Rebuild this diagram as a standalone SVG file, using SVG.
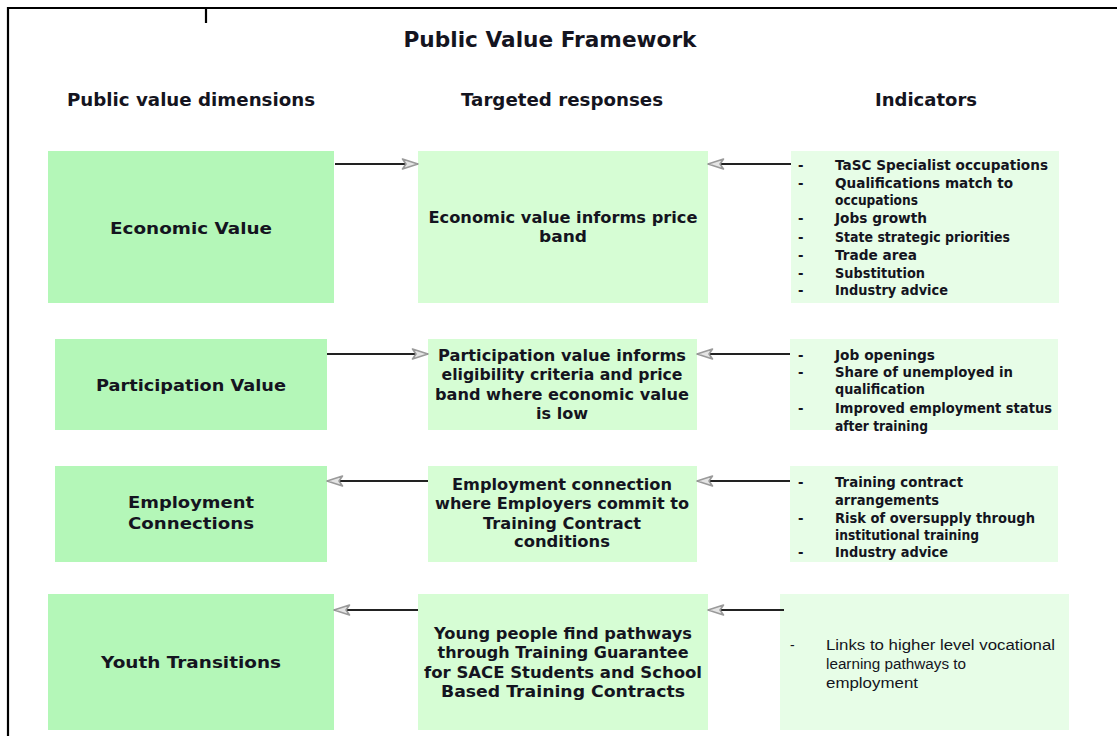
<svg xmlns="http://www.w3.org/2000/svg" width="1117" height="736" viewBox="0 0 1117 736">
<defs>
<marker id="ah" markerUnits="userSpaceOnUse" markerWidth="20" markerHeight="14" refX="17" refY="7" orient="auto">
<path d="M1.5,2 L17,7 L1.5,12 L5,7 Z" fill="#e4e4e4" stroke="#9a9a9a" stroke-width="1.6" stroke-linejoin="round"/>
</marker>
<style>
.frame{stroke:#000;stroke-width:2.2;fill:none}
.dim{fill:#b4f7b8}
.resp{fill:#d6fdd4}
.ind{fill:#e7fde7}
text{font-family:"DejaVu Sans","Liberation Sans",Arial,sans-serif;fill:#141420}
.title{font-size:21px;font-weight:bold;text-anchor:middle}
.head{font-size:17.5px;font-weight:bold;text-anchor:middle}
.lbl{font-size:16.5px;font-weight:bold;text-anchor:middle}
.rt{font-size:16px;font-weight:bold;text-anchor:middle}
.it{font-size:13.2px;font-weight:bold}
.itr{font-size:14px;font-weight:normal;font-family:"Liberation Sans",Arial,sans-serif}
.conn{stroke:#222;stroke-width:2;fill:none}
</style>
</defs>
<rect x="0" y="0" width="1117" height="736" fill="#fff"/>
<g id="frame">
<path class="frame" d="M8,736 V8 H1117"/>
<path class="frame" d="M206,8 V23"/>
</g>
<g id="headings">
<text class="title" x="550" y="47" textLength="293" lengthAdjust="spacingAndGlyphs">Public Value Framework</text>
<text class="head" x="191" y="106" textLength="248" lengthAdjust="spacingAndGlyphs">Public value dimensions</text>
<text class="head" x="562" y="106" textLength="202" lengthAdjust="spacingAndGlyphs">Targeted responses</text>
<text class="head" x="926" y="106" textLength="102" lengthAdjust="spacingAndGlyphs">Indicators</text>
</g>

<g id="economic-value">
<rect class="dim" x="48" y="151" width="286" height="152"/>
<text class="lbl" x="191" y="234" textLength="162" lengthAdjust="spacingAndGlyphs">Economic Value</text>
</g>
<g id="economic-response">
<rect class="resp" x="418" y="151" width="290" height="152"/>
<text class="rt" x="563" y="223" textLength="269" lengthAdjust="spacingAndGlyphs">Economic value informs price</text>
<text class="rt" x="563" y="242" textLength="48" lengthAdjust="spacingAndGlyphs">band</text>
</g>
<g id="economic-indicators">
<rect class="ind" x="791" y="151" width="268" height="152"/>
<text class="it" x="798" y="170">-</text>
<text class="it" x="835" y="170" textLength="213" lengthAdjust="spacingAndGlyphs">TaSC Specialist occupations</text>
<text class="it" x="798" y="188">-</text>
<text class="it" x="835" y="188" textLength="178" lengthAdjust="spacingAndGlyphs">Qualifications match to</text>
<text class="it" x="835" y="205" textLength="83" lengthAdjust="spacingAndGlyphs">occupations</text>
<text class="it" x="798" y="223">-</text>
<text class="it" x="835" y="223" textLength="92" lengthAdjust="spacingAndGlyphs">Jobs growth</text>
<text class="it" x="798" y="242">-</text>
<text class="it" x="835" y="242" textLength="175" lengthAdjust="spacingAndGlyphs">State strategic priorities</text>
<text class="it" x="798" y="260">-</text>
<text class="it" x="835" y="260" textLength="82" lengthAdjust="spacingAndGlyphs">Trade area</text>
<text class="it" x="798" y="278">-</text>
<text class="it" x="835" y="278" textLength="90" lengthAdjust="spacingAndGlyphs">Substitution</text>
<text class="it" x="798" y="295">-</text>
<text class="it" x="835" y="295" textLength="113" lengthAdjust="spacingAndGlyphs">Industry advice</text>
</g>

<g id="participation-value">
<rect class="dim" x="55" y="339" width="272" height="91"/>
<text class="lbl" x="191" y="391" textLength="190" lengthAdjust="spacingAndGlyphs">Participation Value</text>
</g>
<g id="participation-response">
<rect class="resp" x="428" y="339" width="269" height="91"/>
<text class="rt" x="562" y="361" textLength="248" lengthAdjust="spacingAndGlyphs">Participation value informs</text>
<text class="rt" x="562" y="380" textLength="241" lengthAdjust="spacingAndGlyphs">eligibility criteria and price</text>
<text class="rt" x="562" y="400" textLength="254" lengthAdjust="spacingAndGlyphs">band where economic value</text>
<text class="rt" x="562" y="419" textLength="52" lengthAdjust="spacingAndGlyphs">is low</text>
</g>
<g id="participation-indicators">
<rect class="ind" x="790" y="339" width="268" height="91"/>
<text class="it" x="798" y="360">-</text>
<text class="it" x="835" y="360" textLength="100" lengthAdjust="spacingAndGlyphs">Job openings</text>
<text class="it" x="798" y="377">-</text>
<text class="it" x="835" y="377" textLength="178" lengthAdjust="spacingAndGlyphs">Share of unemployed in</text>
<text class="it" x="835" y="394" textLength="90" lengthAdjust="spacingAndGlyphs">qualification</text>
<text class="it" x="798" y="413">-</text>
<text class="it" x="835" y="413" textLength="217" lengthAdjust="spacingAndGlyphs">Improved employment status</text>
<text class="it" x="835" y="431" textLength="93" lengthAdjust="spacingAndGlyphs">after training</text>
</g>

<g id="employment-connections">
<rect class="dim" x="55" y="466" width="272" height="96"/>
<text class="lbl" x="191" y="508" textLength="126" lengthAdjust="spacingAndGlyphs">Employment</text>
<text class="lbl" x="191" y="529" textLength="126" lengthAdjust="spacingAndGlyphs">Connections</text>
</g>
<g id="employment-response">
<rect class="resp" x="428" y="466" width="269" height="96"/>
<text class="rt" x="562" y="490" textLength="220" lengthAdjust="spacingAndGlyphs">Employment connection</text>
<text class="rt" x="562" y="509" textLength="254" lengthAdjust="spacingAndGlyphs">where Employers commit to</text>
<text class="rt" x="562" y="529" textLength="158" lengthAdjust="spacingAndGlyphs">Training Contract</text>
<text class="rt" x="562" y="547" textLength="96" lengthAdjust="spacingAndGlyphs">conditions</text>
</g>
<g id="employment-indicators">
<rect class="ind" x="790" y="466" width="268" height="96"/>
<text class="it" x="798" y="487">-</text>
<text class="it" x="835" y="487" textLength="128" lengthAdjust="spacingAndGlyphs">Training contract</text>
<text class="it" x="835" y="505" textLength="104" lengthAdjust="spacingAndGlyphs">arrangements</text>
<text class="it" x="798" y="523">-</text>
<text class="it" x="835" y="523" textLength="200" lengthAdjust="spacingAndGlyphs">Risk of oversupply through</text>
<text class="it" x="835" y="540" textLength="144" lengthAdjust="spacingAndGlyphs">institutional training</text>
<text class="it" x="798" y="557">-</text>
<text class="it" x="835" y="557" textLength="113" lengthAdjust="spacingAndGlyphs">Industry advice</text>
</g>

<g id="youth-transitions">
<rect class="dim" x="48" y="594" width="286" height="136"/>
<text class="lbl" x="191" y="668" textLength="180" lengthAdjust="spacingAndGlyphs">Youth Transitions</text>
</g>
<g id="youth-response">
<rect class="resp" x="418" y="594" width="290" height="136"/>
<text class="rt" x="563" y="639" textLength="258" lengthAdjust="spacingAndGlyphs">Young people find pathways</text>
<text class="rt" x="563" y="658" textLength="251" lengthAdjust="spacingAndGlyphs">through Training Guarantee</text>
<text class="rt" x="563" y="678" textLength="278" lengthAdjust="spacingAndGlyphs">for SACE Students and School</text>
<text class="rt" x="563" y="697" textLength="244" lengthAdjust="spacingAndGlyphs">Based Training Contracts</text>
</g>
<g id="youth-indicators">
<rect class="ind" x="780" y="594" width="289" height="136"/>
<text class="itr" x="790" y="650">-</text>
<text class="itr" x="826" y="650" textLength="229" lengthAdjust="spacingAndGlyphs">Links to higher level vocational</text>
<text class="itr" x="826" y="669" textLength="140" lengthAdjust="spacingAndGlyphs">learning pathways to</text>
<text class="itr" x="826" y="688" textLength="92" lengthAdjust="spacingAndGlyphs">employment</text>
</g>

<g id="connectors">
<line class="conn" x1="335" y1="164" x2="418" y2="164" marker-end="url(#ah)"/>
<line class="conn" x1="791" y1="164" x2="708" y2="164" marker-end="url(#ah)"/>
<line class="conn" x1="327" y1="354" x2="428" y2="354" marker-end="url(#ah)"/>
<line class="conn" x1="790" y1="354" x2="697" y2="354" marker-end="url(#ah)"/>
<line class="conn" x1="428" y1="481" x2="327" y2="481" marker-end="url(#ah)"/>
<line class="conn" x1="790" y1="481" x2="697" y2="481" marker-end="url(#ah)"/>
<line class="conn" x1="418" y1="610" x2="334" y2="610" marker-end="url(#ah)"/>
<line class="conn" x1="784" y1="610" x2="708" y2="610" marker-end="url(#ah)"/>
</g>
</svg>
